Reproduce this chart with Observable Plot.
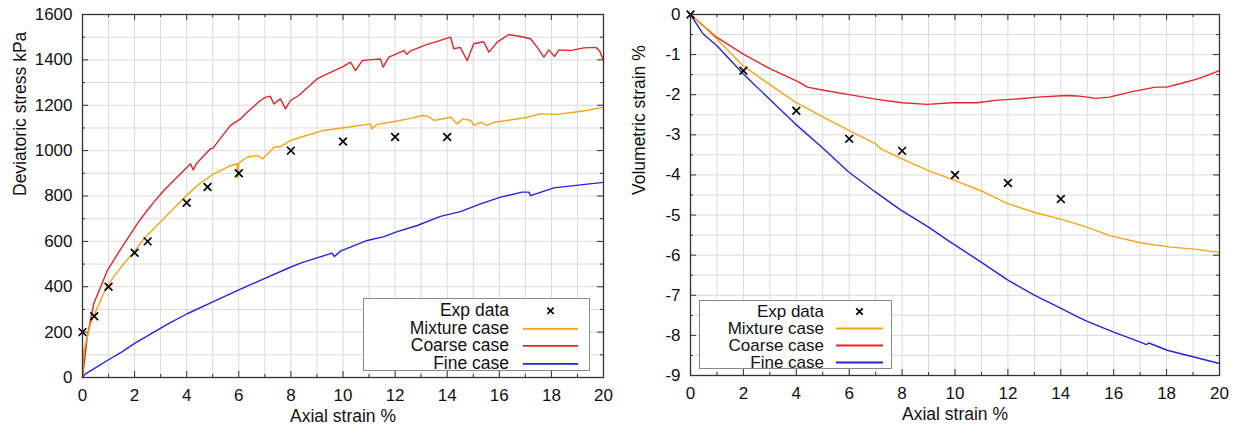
<!DOCTYPE html>
<html>
<head>
<meta charset="utf-8">
<script src="https://cdn.jsdelivr.net/npm/d3@7"></script>
<script src="https://cdn.jsdelivr.net/npm/@observablehq/plot@0.6"></script>
<style>
  html, body { margin: 0; padding: 0; background: #fff; }
  #wrap { position: relative; width: 1241px; height: 433px; overflow: hidden; font-family: "Liberation Sans", Arial, Helvetica, sans-serif; }
  .panel { position: absolute; top: 0; }
  .legend { position: absolute; background: #fff; border: 1px solid #8a8a8a; box-sizing: border-box; color: #111; }
  .legend .row { display: flex; align-items: center; white-space: nowrap; }
  .legend .lab { text-align: right; }
  .legend svg { display: block; }
</style>
</head>
<body>
<div id="wrap"></div>
<script>
// ---------------- DATA ----------------
const seriesNames = ["Exp data", "Mixture case", "Coarse case", "Fine case"];
const seriesColors = { "Mixture case": "#f3a51c", "Coarse case": "#e4252a", "Fine case": "#2424dc" };

const xTickLabels = [0, 2, 4, 6, 8, 10, 12, 14, 16, 18, 20];
const stressTickLabels = [0, 200, 400, 600, 800, 1000, 1200, 1400, 1600];
const volTickLabels = [0, -1, -2, -3, -4, -5, -6, -7, -8, -9];

// Left: deviatoric stress (kPa) vs axial strain (%)
const stressExp = [[0, 200], [0.45, 270], [1, 400], [2, 550], [2.5, 600], [4, 770], [4.8, 840], [6, 900], [8, 1000], [10, 1040], [12, 1060], [14, 1060]];
const stressMixture = [[0, 0], [0.05, 119], [0.31, 237], [0.5, 290], [0.95, 405], [1.5, 490], [1.97, 552], [2.35, 611], [2.99, 685], [3.5, 745], [4.02, 805], [4.5, 855], [5.04, 898], [5.3, 912], [5.6, 930], [5.94, 942], [5.96, 880], [6.0, 945], [6.32, 971], [6.7, 978], [6.83, 971], [6.9, 963], [7.1, 985], [7.35, 1015], [7.6, 1018], [7.98, 1044], [8.37, 1059], [9.26, 1089], [10.16, 1103], [11.06, 1118], [11.1, 1096], [11.3, 1115], [11.82, 1125], [12.5, 1140], [13.04, 1155], [13.3, 1150], [13.49, 1133], [14.13, 1147], [14.38, 1118], [14.6, 1140], [14.9, 1133], [15.02, 1111], [15.3, 1125], [15.53, 1111], [15.8, 1125], [16.3, 1133], [17.0, 1145], [17.58, 1162], [18.2, 1160], [18.86, 1169], [19.4, 1178], [20, 1192]];
const stressCoarse = [[0, 0], [0.18, 178], [0.43, 325], [0.95, 471], [1.46, 565], [2.1, 677], [2.48, 736], [2.74, 773], [3.12, 824], [3.76, 898], [4.15, 942], [4.25, 915], [4.37, 942], [4.91, 1008], [5.0, 1010], [5.68, 1111], [6.07, 1140], [6.32, 1169], [6.83, 1221], [7.02, 1235], [7.2, 1240], [7.35, 1206], [7.6, 1228], [7.79, 1184], [7.98, 1221], [8.3, 1243], [9.0, 1316], [9.52, 1345], [10.0, 1370], [10.29, 1390], [10.48, 1353], [10.74, 1397], [11.0, 1400], [11.44, 1404], [11.54, 1368], [11.76, 1412], [12.34, 1441], [12.45, 1425], [12.6, 1440], [13.1, 1463], [14.13, 1500], [14.25, 1449], [14.5, 1455], [14.77, 1397], [15.02, 1471], [15.4, 1480], [15.6, 1434], [15.92, 1478], [16.37, 1512], [16.81, 1503], [17.2, 1493], [17.45, 1456], [17.71, 1412], [17.9, 1444], [18.12, 1415], [18.29, 1444], [18.73, 1441], [19.24, 1453], [19.7, 1455], [19.85, 1440], [20, 1395]];
const stressFine = [[0, 0], [0.1, 15], [0.43, 38], [0.95, 75], [1.5, 112], [1.97, 148], [2.74, 200], [3.3, 237], [4.02, 281], [5.0, 333], [5.94, 383], [7.0, 437], [7.98, 486], [8.37, 504], [9.0, 527], [9.58, 548], [9.67, 533], [9.9, 557], [10.93, 604], [11.57, 621], [12.0, 640], [12.85, 670], [13.74, 710], [14.51, 731], [15.28, 765], [16.05, 795], [16.88, 817], [17.13, 817], [17.2, 802], [18.1, 836], [19.12, 849], [19.82, 858], [20, 860]];

// Right: volumetric strain (%) vs axial strain (%)
const volExp = [[0, 0], [2, -1.4], [4, -2.4], [6, -3.1], [8, -3.4], [10, -4.0], [12, -4.2], [14, -4.6]];
const volMixture = [[0, 0], [0.5, -0.3], [1, -0.62], [1.98, -1.27], [3.0, -1.75], [3.95, -2.18], [5.0, -2.55], [5.97, -2.88], [6.99, -3.22], [7.2, -3.35], [8.0, -3.6], [8.95, -3.88], [9.96, -4.13], [11.0, -4.4], [11.97, -4.71], [12.98, -4.93], [13.99, -5.1], [14.93, -5.29], [15.88, -5.52], [17.01, -5.69], [18.15, -5.8], [19.03, -5.85], [20, -5.93]];
const volCoarse = [[0, 0], [0.97, -0.56], [1.98, -0.98], [3.0, -1.35], [4.08, -1.68], [4.42, -1.81], [5.03, -1.89], [6.11, -2.01], [6.99, -2.11], [8.0, -2.2], [8.95, -2.24], [9.89, -2.2], [10.84, -2.2], [11.51, -2.14], [12.46, -2.1], [13.13, -2.06], [14.22, -2.02], [14.6, -2.03], [15.02, -2.06], [15.3, -2.09], [15.84, -2.06], [16.65, -1.93], [17.59, -1.81], [18.0, -1.81], [18.54, -1.72], [19.21, -1.6], [20, -1.4]];
const volFine = [[0, 0], [0.43, -0.44], [0.5, -0.5], [1.0, -0.78], [1.98, -1.47], [3.0, -2.12], [3.95, -2.72], [5.0, -3.33], [5.97, -3.92], [7.0, -4.43], [7.94, -4.87], [9.0, -5.3], [9.7, -5.62], [10.96, -6.16], [11.97, -6.61], [12.98, -6.99], [13.99, -7.32], [14.62, -7.53], [15.0, -7.65], [16.0, -7.92], [17.01, -8.17], [17.23, -8.23], [17.33, -8.19], [18.02, -8.37], [19.03, -8.54], [20, -8.7]];

// ---------------- DRAW ----------------
const H = 433;
const FONT = '"Liberation Sans", Arial, Helvetica, sans-serif';
const GRID = "#dadada";
const FRAME = "#333";

function panel(cfg) {
  const innerW = cfg.width - cfg.marginLeft - cfg.marginRight;
  const innerH = H - cfg.marginTop - cfg.marginBottom;
  const xMajor = xTickLabels;
  const xMinor = d3.range(1, 20, 2);
  const xAll = d3.range(0, 21, 1);
  const yAll = d3.range(cfg.yDomain[0], cfg.yDomain[1] + cfg.yStep / 2, cfg.yStep);
  const yMajor = cfg.yTicks;
  const yMinor = yAll.filter(v => !yMajor.some(t => Math.abs(t - v) < 1e-9));
  const maj = 6, mnr = 3;
  const fx = d => d[0], fy = d => d[1];
  return Plot.plot({
    width: cfg.width,
    height: H,
    marginLeft: cfg.marginLeft,
    marginRight: cfg.marginRight,
    marginTop: cfg.marginTop,
    marginBottom: cfg.marginBottom,
    x: { domain: [0, 20] },
    y: { domain: cfg.yDomain },
    style: { fontFamily: FONT, fontSize: "17px", color: "#111", background: "#fff" },
    marks: [
      Plot.ruleX(xAll, { stroke: GRID, strokeWidth: 1 }),
      Plot.ruleY(yAll, { stroke: GRID, strokeWidth: 1 }),
      // inward tick marks on all four sides
      Plot.ruleX(xMajor, { stroke: FRAME, insetTop: innerH - maj }),
      Plot.ruleX(xMajor, { stroke: FRAME, insetBottom: innerH - maj }),
      Plot.ruleX(xMinor, { stroke: FRAME, insetTop: innerH - mnr }),
      Plot.ruleX(xMinor, { stroke: FRAME, insetBottom: innerH - mnr }),
      Plot.ruleY(yMajor, { stroke: FRAME, insetRight: innerW - maj }),
      Plot.ruleY(yMajor, { stroke: FRAME, insetLeft: innerW - maj }),
      Plot.ruleY(yMinor, { stroke: FRAME, insetRight: innerW - mnr }),
      Plot.ruleY(yMinor, { stroke: FRAME, insetLeft: innerW - mnr }),
      Plot.line(cfg.fine, { x: fx, y: fy, stroke: seriesColors["Fine case"], strokeWidth: 1.4 }),
      Plot.line(cfg.coarse, { x: fx, y: fy, stroke: seriesColors["Coarse case"], strokeWidth: 1.4 }),
      Plot.line(cfg.mixture, { x: fx, y: fy, stroke: seriesColors["Mixture case"], strokeWidth: 1.4 }),
      Plot.dot(cfg.exp, { x: fx, y: fy, symbol: "times", r: 3.6, stroke: "#000", strokeWidth: 1.7 }),
      Plot.frame({ stroke: FRAME, strokeWidth: 1.3 }),
      Plot.axisX(xMajor, { tickSize: 0, tickPadding: 11, fontSize: 17, label: null, tickFormat: d => String(d) }),
      Plot.axisY(yMajor, { tickSize: 0, tickPadding: 10, fontSize: 17, label: null, tickFormat: d => String(d) }),
      Plot.text(["Axial strain %"], { frameAnchor: "bottom", dy: cfg.xLabelDy, fontSize: 17.5, fill: "#111" }),
      Plot.text([cfg.yLabel], { frameAnchor: "left", dx: cfg.yLabelDx, rotate: -90, fontSize: 17.5, fill: "#111" })
    ]
  });
}

function legend(opt) {
  const box = document.createElement("div");
  box.className = "legend";
  Object.assign(box.style, {
    left: opt.left + "px", top: opt.top + "px", width: opt.width + "px", height: opt.height + "px",
    paddingTop: opt.padTop + "px", fontSize: opt.fontSize + "px", fontFamily: FONT
  });
  seriesNames.forEach(name => {
    const row = document.createElement("div");
    row.className = "row";
    row.style.height = opt.rowH + "px";
    const lab = document.createElement("div");
    lab.className = "lab";
    lab.style.width = opt.textRight + "px";
    lab.style.lineHeight = opt.rowH + "px";
    lab.textContent = name;
    row.appendChild(lab);
    const sw = d3.create("svg").attr("width", opt.sampleW).attr("height", opt.rowH)
      .style("margin-left", (opt.sampleLeft - opt.textRight) + "px");
    const cy = opt.rowH / 2;
    if (name === "Exp data") {
      const cx = opt.sampleW / 2, s = 3.2;
      sw.append("path").attr("d", `M${cx - s},${cy - s}L${cx + s},${cy + s}M${cx - s},${cy + s}L${cx + s},${cy - s}`)
        .attr("stroke", "#000").attr("stroke-width", 1.7);
    } else {
      sw.append("line").attr("x1", 0).attr("x2", opt.sampleW).attr("y1", cy).attr("y2", cy)
        .attr("stroke", seriesColors[name]).attr("stroke-width", 1.8);
    }
    row.appendChild(sw.node());
    box.appendChild(row);
  });
  return box;
}

const wrap = document.getElementById("wrap");

const left = panel({
  width: 620, marginLeft: 82, marginRight: 17, marginTop: 14, marginBottom: 56,
  yDomain: [0, 1600], yStep: 100, yTicks: stressTickLabels,
  exp: stressExp, mixture: stressMixture, coarse: stressCoarse, fine: stressFine,
  yLabel: "Deviatoric stress kPa", yLabelDx: -62, xLabelDy: 44
});
left.classList.add("panel");
left.style.left = "0px";
wrap.appendChild(left);

const right = panel({
  width: 621, marginLeft: 70, marginRight: 22, marginTop: 14, marginBottom: 58,
  yDomain: [-9, 0], yStep: 0.5, yTicks: volTickLabels,
  exp: volExp, mixture: volMixture, coarse: volCoarse, fine: volFine,
  yLabel: "Volumetric strain %", yLabelDx: -51, xLabelDy: 44
});
right.classList.add("panel");
right.style.left = "620px";
wrap.appendChild(right);

wrap.appendChild(legend({ left: 363, top: 298, width: 227, height: 73, padTop: 3, rowH: 17.6, fontSize: 17.5, textRight: 145, sampleLeft: 159, sampleW: 55 }));
wrap.appendChild(legend({ left: 699, top: 300, width: 193, height: 69, padTop: 1.5, rowH: 17, fontSize: 17, textRight: 124, sampleLeft: 136, sampleW: 47 }));
</script>
</body>
</html>
